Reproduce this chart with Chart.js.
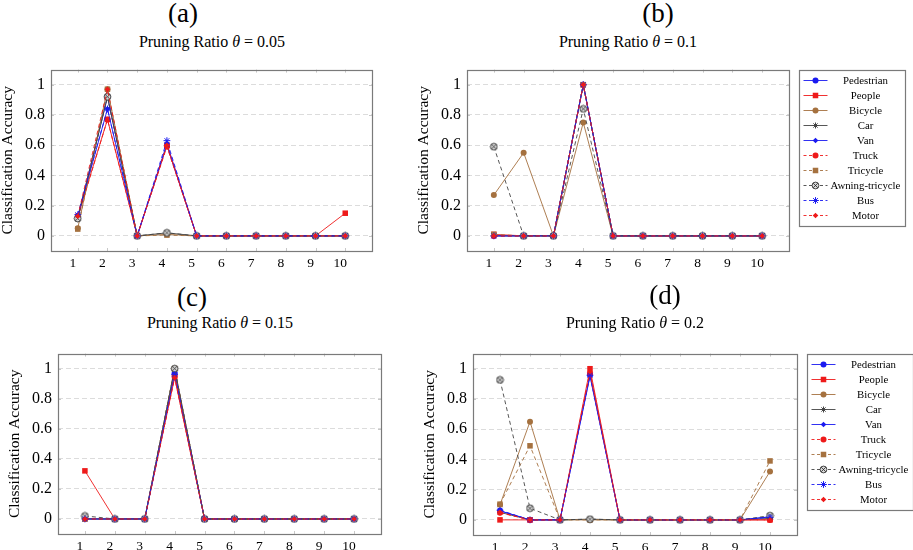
<!DOCTYPE html>
<html><head><meta charset="utf-8">
<script src="https://cdn.jsdelivr.net/npm/chart.js@4.4.1/dist/chart.umd.min.js"></script>
<style>
html,body{margin:0;padding:0;width:913px;height:550px;overflow:hidden;background:#fff;font-family:"Liberation Serif","DejaVu Serif",serif;}
canvas{position:absolute;}
.lab{position:absolute;transform:translate(-50%,-50%);white-space:nowrap;color:#000;line-height:1;}
.big{font-size:27px;}
.sub{font-size:16px;}
</style></head><body>
<script>
// ---------------- data ----------------
const classes = ['Pedestrian','People','Bicycle','Car','Van','Truck','Tricycle','Awning-tricycle','Bus','Motor'];
const xTicks = [1,2,3,4,5,6,7,8,9,10];
const yTicks = [0,0.2,0.4,0.6,0.8,1];
const ratios = ['0.05','0.1','0.15','0.2'];

// rows follow `classes`, columns follow `xTicks`
const accA = [
  [0.12, 0.92, 0, 0.60, 0, 0, 0, 0, 0, 0],
  [0.13, 0.77, 0, 0.60, 0, 0, 0, 0, 0, 0.15],
  [0.05, 0.97, 0, 0.01, 0, 0, 0, 0, 0, 0],
  [0.11, 0.92, 0, 0.02, 0, 0, 0, 0, 0, 0],
  [0.13, 0.84, 0, 0.61, 0, 0, 0, 0, 0, 0],
  [0.12, 0.77, 0, 0.59, 0, 0, 0, 0, 0, 0],
  [0.045, 0.97, 0, 0.005, 0, 0, 0, 0, 0, 0],
  [0.115, 0.92, 0, 0.02, 0, 0, 0, 0, 0, 0],
  [0.14, 0.84, 0, 0.63, 0, 0, 0, 0, 0, 0],
  [0.13, 0.97, 0, 0.60, 0, 0, 0, 0, 0, 0]
];
const accB = [
  [0, 0, 0, 1, 0, 0, 0, 0, 0, 0],
  [0.01, 0, 0, 1, 0, 0, 0, 0, 0, 0],
  [0.27, 0.55, 0, 0.75, 0, 0, 0, 0, 0, 0],
  [0, 0, 0, 1, 0, 0, 0, 0, 0, 0],
  [0, 0, 0, 1, 0, 0, 0, 0, 0, 0],
  [0, 0, 0, 1, 0, 0, 0, 0, 0, 0],
  [0.01, 0, 0, 1, 0, 0, 0, 0, 0, 0],
  [0.59, 0, 0, 0.84, 0, 0, 0, 0, 0, 0],
  [0, 0, 0, 1, 0, 0, 0, 0, 0, 0],
  [0, 0, 0, 1, 0, 0, 0, 0, 0, 0]
];
const accC = [
  [0, 0, 0, 0.97, 0, 0, 0, 0, 0, 0],
  [0.32, 0, 0, 0.94, 0, 0, 0, 0, 0, 0],
  [0, 0, 0, 1, 0, 0, 0, 0, 0, 0],
  [0, 0, 0, 1, 0, 0, 0, 0, 0, 0],
  [0, 0, 0, 0.97, 0, 0, 0, 0, 0, 0],
  [0, 0, 0, 0.95, 0, 0, 0, 0, 0, 0],
  [0, 0, 0, 1, 0, 0, 0, 0, 0, 0],
  [0.02, 0, 0, 1, 0, 0, 0, 0, 0, 0],
  [0, 0, 0, 0.96, 0, 0, 0, 0, 0, 0],
  [0, 0, 0, 0.94, 0, 0, 0, 0, 0, 0]
];
const accD = [
  [0.06, 0, 0, 0.96, 0, 0, 0, 0, 0, 0.02],
  [0, 0, 0, 1.0, 0, 0, 0, 0, 0, 0],
  [0.10, 0.65, 0, 0, 0, 0, 0, 0, 0, 0.32],
  [0.05, 0, 0, 0.005, 0, 0, 0, 0, 0, 0.01],
  [0.06, 0, 0, 0.95, 0, 0, 0, 0, 0, 0.02],
  [0.047, 0, 0, 0.97, 0, 0, 0, 0, 0, 0],
  [0.104, 0.49, 0, 0, 0, 0, 0, 0, 0, 0.39],
  [0.926, 0.077, 0, 0.005, 0, 0, 0, 0, 0, 0.028],
  [0.064, 0, 0, 0.957, 0, 0, 0, 0, 0, 0.017],
  [0.05, 0, 0, 0.98, 0, 0, 0, 0, 0, 0]
];

// ---------------- styles ----------------
const FONT = '"Liberation Serif", "DejaVu Serif", serif';
const BLUE = '#1a1af0', RED = '#ee1a1a', BROWN = '#a5713f', BLACK = '#444444';

function makeOtimes() {
  const c = document.createElement('canvas');
  c.width = 9; c.height = 9;
  const g = c.getContext('2d');
  g.beginPath(); g.arc(4.5, 4.5, 3.4, 0, Math.PI * 2);
  g.fillStyle = '#d8d8d8'; g.fill();
  g.strokeStyle = '#333'; g.lineWidth = 0.9; g.stroke();
  const d = 2.3;
  g.beginPath();
  g.moveTo(4.5 - d, 4.5 - d); g.lineTo(4.5 + d, 4.5 + d);
  g.moveTo(4.5 + d, 4.5 - d); g.lineTo(4.5 - d, 4.5 + d);
  g.strokeStyle = '#222'; g.lineWidth = 0.8; g.stroke();
  return c;
}
const otimes = makeOtimes();

const styles = [
  {color: BLUE,  dash: false, point: 'circle',  r: 3.0},
  {color: RED,   dash: false, point: 'rect',    r: 3.9},
  {color: BROWN, dash: false, point: 'circle',  r: 3.0},
  {color: BLACK, dash: false, point: 'star',    r: 3.0},
  {color: BLUE,  dash: false, point: 'rectRot', r: 2.8},
  {color: RED,   dash: true,  point: 'circle',  r: 3.0},
  {color: BROWN, dash: true,  point: 'rect',    r: 3.9},
  {color: BLACK, dash: true,  point: otimes,    r: 4.5},
  {color: BLUE,  dash: true,  point: 'star',    r: 3.4},
  {color: RED,   dash: true,  point: 'rectRot', r: 2.8}
];

// ---------------- layout ----------------
const panels = [
  {acc: accA, tag: '(a)', box: [51, 62, 372, 251],  legend: false, tagPos: [183, 13],  subPos: [212, 42]},
  {acc: accB, tag: '(b)', box: [467, 62, 789, 251], legend: true,  tagPos: [658, 13],  subPos: [628, 42]},
  {acc: accC, tag: '(c)', box: [58, 346, 381, 534], legend: false, tagPos: [192, 297], subPos: [220, 323]},
  {acc: accD, tag: '(d)', box: [473, 346, 797, 535],legend: true,  tagPos: [665, 295], subPos: [635, 323]}
];

function drawMarker(ctx, st, x, y) {
  ctx.save();
  ctx.fillStyle = st.color; ctx.strokeStyle = st.color; ctx.lineWidth = 1;
  const p = st.point, r = st.r;
  if (typeof p !== 'string') {
    ctx.drawImage(p, x - p.width / 2, y - p.height / 2);
  } else if (p === 'circle') {
    ctx.beginPath(); ctx.arc(x, y, r, 0, Math.PI * 2); ctx.fill();
  } else if (p === 'rect') {
    const s = r * Math.SQRT1_2; ctx.fillRect(x - s, y - s, 2 * s, 2 * s);
  } else if (p === 'rectRot') {
    ctx.beginPath(); ctx.moveTo(x, y - r); ctx.lineTo(x + r, y); ctx.lineTo(x, y + r); ctx.lineTo(x - r, y); ctx.closePath(); ctx.fill();
  } else if (p === 'star') {
    ctx.beginPath();
    for (let k = 0; k < 4; k++) {
      const a = k * Math.PI / 4;
      ctx.moveTo(x - Math.cos(a) * r, y - Math.sin(a) * r);
      ctx.lineTo(x + Math.cos(a) * r, y + Math.sin(a) * r);
    }
    ctx.stroke();
  }
  ctx.restore();
}

const framePlugin = {
  id: 'frame',
  afterDraw(chart) {
    const {ctx, chartArea: a, scales} = chart;
    ctx.save();
    ctx.strokeStyle = '#c8c8c8'; ctx.lineWidth = 1;
    ctx.beginPath();
    xTicks.forEach(v => {
      const px = Math.round(scales.x.getPixelForValue(v)) + 0.5;
      ctx.moveTo(px, a.bottom); ctx.lineTo(px, a.bottom - 3);
      ctx.moveTo(px, a.top); ctx.lineTo(px, a.top + 3);
    });
    yTicks.forEach(v => {
      const py = Math.round(scales.y.getPixelForValue(v)) + 0.5;
      ctx.moveTo(a.left, py); ctx.lineTo(a.left + 3, py);
      ctx.moveTo(a.right, py); ctx.lineTo(a.right - 3, py);
    });
    ctx.stroke();
    ctx.strokeStyle = '#7a7a7a'; ctx.lineWidth = 1.2;
    ctx.strokeRect(Math.round(a.left) + 0.5, Math.round(a.top) + 0.5, Math.round(a.right - a.left), Math.round(a.bottom - a.top));
    ctx.restore();
  }
};

const legendPlugin = {
  id: 'pgfLegend',
  afterDraw(chart, args, opts) {
    if (!opts || !opts.show) return;
    const {ctx, chartArea: a} = chart;
    const x0 = Math.round(a.right) + 10.5, y0 = Math.round(a.top) + 0.5, w = 106, h = 156;
    ctx.save();
    ctx.fillStyle = '#fff'; ctx.fillRect(x0, y0, w, h);
    ctx.strokeStyle = '#7a7a7a'; ctx.lineWidth = 1.2; ctx.strokeRect(x0, y0, w, h);
    ctx.font = '10.8px ' + FONT; ctx.textAlign = 'center'; ctx.textBaseline = 'middle';
    classes.forEach((name, i) => {
      const st = styles[i];
      const y = y0 + 10 + i * 15;
      ctx.strokeStyle = st.color; ctx.lineWidth = 0.9;
      ctx.setLineDash(st.dash ? [3, 2.5] : []);
      ctx.beginPath(); ctx.moveTo(x0 + 4, y); ctx.lineTo(x0 + 28, y); ctx.stroke();
      ctx.setLineDash([]);
      drawMarker(ctx, st, x0 + 16, y);
      ctx.fillStyle = '#000';
      ctx.fillText(name, x0 + 66, y + 0.5);
    });
    ctx.restore();
  }
};

const YW = 52, PADTOP = 8, XH = 30;

panels.forEach((p, pi) => {
  const [L, T, R, B] = p.box;
  const padRight = p.legend ? 124 : 8;
  const cv = document.createElement('canvas');
  const cw = (R - L) + YW + padRight, ch = (B - T) + PADTOP + XH;
  cv.width = cw; cv.height = ch;
  cv.style.width = cw + 'px'; cv.style.height = ch + 'px';
  cv.style.left = (L - YW) + 'px'; cv.style.top = (T - PADTOP) + 'px';
  document.body.appendChild(cv);

  const tag = document.createElement('div');
  tag.className = 'lab big'; tag.textContent = p.tag;
  tag.style.left = p.tagPos[0] + 'px'; tag.style.top = p.tagPos[1] + 'px';
  document.body.appendChild(tag);
  const sub = document.createElement('div');
  sub.className = 'lab sub';
  sub.innerHTML = 'Pruning Ratio <i>θ</i> = ' + ratios[pi];
  sub.style.left = p.subPos[0] + 'px'; sub.style.top = p.subPos[1] + 'px';
  document.body.appendChild(sub);

  const datasets = classes.map((name, i) => {
    const st = styles[i];
    return {
      label: name,
      data: xTicks.map((x, j) => ({x: x, y: p.acc[i][j]})),
      borderColor: st.color,
      backgroundColor: st.color,
      borderWidth: 0.9,
      borderDash: st.dash ? [4, 3] : [],
      pointStyle: st.point,
      pointRadius: st.r,
      pointBackgroundColor: st.color,
      pointBorderColor: st.color,
      pointBorderWidth: st.point === 'star' ? 1 : 0,
      tension: 0,
      order: classes.length - 1 - i,
      clip: false
    };
  });

  new Chart(cv, {
    type: 'line',
    data: {datasets},
    plugins: [framePlugin, legendPlugin],
    options: {
      responsive: false,
      animation: false,
      devicePixelRatio: window.devicePixelRatio || 1,
      layout: {padding: {left: 0, top: PADTOP, right: padRight, bottom: 0}},
      plugins: {legend: {display: false}, tooltip: {enabled: false}, pgfLegend: {show: p.legend}},
      scales: {
        x: {
          type: 'linear', min: 0.1, max: 10.9,
          afterBuildTicks: s => { s.ticks = xTicks.map(v => ({value: v})); },
          afterFit: s => { s.height = XH; },
          grid: {display: false, drawTicks: false},
          border: {display: false},
          ticks: {font: {family: FONT, size: 13.5}, color: '#000', padding: 4, labelOffset: -5,
                  autoSkip: false, maxRotation: 0, callback: v => String(v)}
        },
        y: {
          type: 'linear', min: -0.1, max: 1.1,
          afterBuildTicks: s => { s.ticks = yTicks.map(v => ({value: v})); },
          afterFit: s => { s.width = YW; },
          grid: {color: '#dcdcdc', lineWidth: 1, drawTicks: false},
          border: {display: false, dash: [5, 3]},
          ticks: {font: {family: FONT, size: 16}, color: '#000', padding: 6, callback: v => String(v)},
          title: {display: true, text: 'Classification Accuracy', color: '#000',
                  font: {family: FONT, size: 15.5}, padding: {top: 0, bottom: 0}}
        }
      }
    }
  });
});
</script>
</body></html>
